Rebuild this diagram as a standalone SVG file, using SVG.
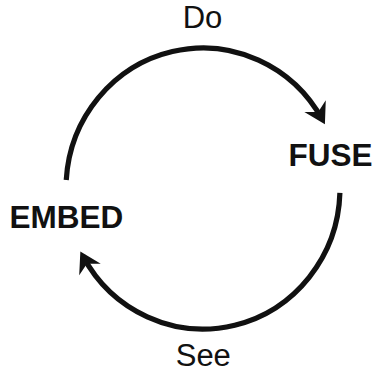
<svg xmlns="http://www.w3.org/2000/svg" width="374" height="372" viewBox="0 0 374 372">
  <style>
    .lbl { font-family: "Liberation Sans", Arial, Helvetica, sans-serif; font-size: 31px; fill: #111; }
    .node { font-weight: bold; font-size: 31.5px; }
    .arc { fill: none; stroke: #111; stroke-width: 5.2; }
  </style>
  <defs>
    <marker id="head" markerUnits="userSpaceOnUse" viewBox="-22 -13 24 26" markerWidth="24" markerHeight="26" refX="-5" refY="0" orient="auto" overflow="visible">
      <path d="M0,0 L-20.5,-12.2 L-14,0 L-20.5,12.2 Z" fill="#111"/>
    </marker>
  </defs>
  <rect width="374" height="372" fill="#fff"/>
  <g id="connectors">
    <path id="arc-do" class="arc" d="M66.25,180 A137,140.5 0 0 1 322.5,119.8" marker-end="url(#head)"/>
    <path id="arc-see" class="arc" d="M339.9,192.9 A137,140.5 0 0 1 82.7,255.8" marker-end="url(#head)"/>
    <text class="lbl" x="202.5" y="28" text-anchor="middle">Do</text>
    <text class="lbl" x="203.3" y="366" text-anchor="middle">See</text>
  </g>
  <g id="node-fuse">
    <text class="lbl node" x="288.4" y="166">FUSE</text>
  </g>
  <g id="node-embed">
    <text class="lbl node" x="9.4" y="228">EMBED</text>
  </g>
</svg>
